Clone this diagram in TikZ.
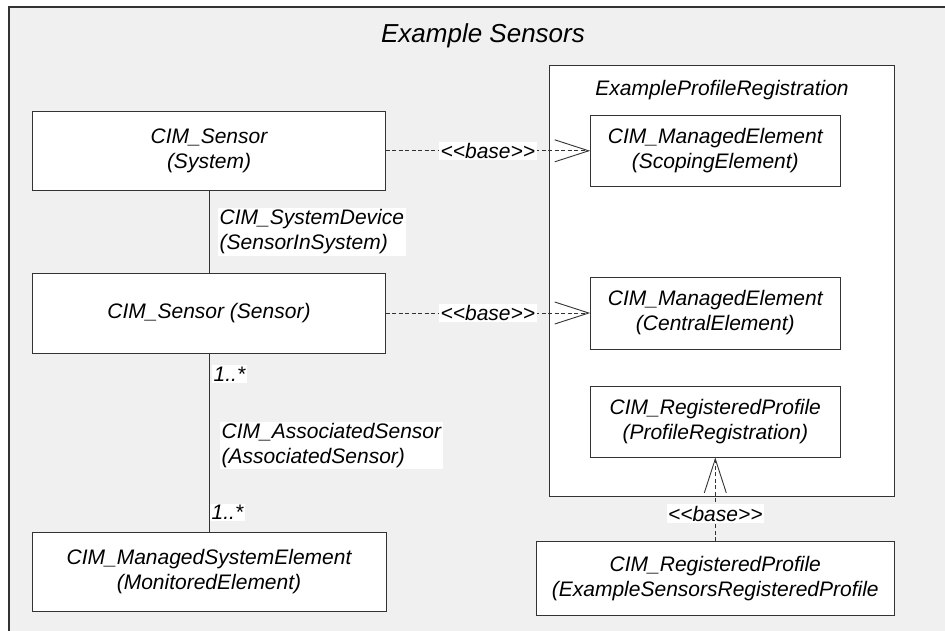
\documentclass[tikz,border=0pt]{standalone}
\usepackage{fontspec}
\newfontfamily\af{Liberation Sans}
\usetikzlibrary{arrows.meta}
\definecolor{bgc}{HTML}{F0F0F0}
\definecolor{lnc}{HTML}{333333}
\begin{document}
\begin{tikzpicture}[x=1pt,y=-1pt,
  txt/.style={font=\af\itshape\fontsize{21}{25}\selectfont, text=black},
  box/.style={txt, draw=lnc, fill=white, line width=0.9pt, inner sep=0pt, align=center},
  lbl/.style={txt, fill=white, inner sep=1.5pt, align=left},
  conn/.style={draw=lnc, line width=0.9pt},
  dep/.style={conn, dash pattern=on 4pt off 2.5pt, -{Straight Barb[length=34pt,width=22pt]}},
  stereo/.style={txt, fill=white, inner sep=1.5pt}]
\useasboundingbox (0,0) rectangle (945,630);
\clip (0,0) rectangle (945,630);
\fill[white] (0,0) rectangle (945,630);
% outer frame
\draw[fill=bgc, draw=lnc, line width=1.2pt] (9,7) rectangle (965,650);
\node[font=\af\itshape\fontsize{26}{30}\selectfont, anchor=base] (title) at (483,42) {Example Sensors};
% package
\node[draw=lnc, fill=white, line width=0.9pt, minimum width=344.7pt, minimum height=431pt, inner sep=0pt] (pkg) at (721.6,280.5) {};
\node[txt, anchor=base] (pkgtitle) at (722,95) {ExampleProfileRegistration};
% left boxes
\node[box, minimum width=352.3pt, minimum height=79pt] (sys) at (209,151.2) {CIM\_Sensor\\(System)};
\node[box, minimum width=352.3pt, minimum height=80pt] (sen) at (209,313) {CIM\_Sensor (Sensor)};
\node[box, minimum width=354pt, minimum height=79pt] (mse) at (209,571.5) {CIM\_ManagedSystemElement\\(MonitoredElement)};
% right boxes
\node[box, minimum width=249.3pt, minimum height=71.7pt] (me1) at (715.3,150.8) {CIM\_ManagedElement\\(ScopingElement)};
\node[box, minimum width=249.3pt, minimum height=72pt] (me2) at (715.3,313) {CIM\_ManagedElement\\(CentralElement)};
\node[box, minimum width=250pt, minimum height=71pt] (rp1) at (715.3,421.5) {CIM\_RegisteredProfile\\(ProfileRegistration)};
\node[box, minimum width=357.3pt, minimum height=73.3pt] (rp2) at (715.3,578.3) {CIM\_RegisteredProfile\\(ExampleSensorsRegisteredProfile};
% associations
\draw[conn] (sys.south) -- (sen.north);
\draw[conn] (sen.south) -- (mse.north);
% dependencies
\draw[dep] (sys.east |- me1.west) -- (me1.west) node[stereo, pos=0.5] (b1) {<\kern0pt<base>\kern0pt>};
\draw[dep] (sen.east |- me2.west) -- (me2.west) node[stereo, pos=0.5] (b2) {<\kern0pt<base>\kern0pt>};
\draw[dep] (rp2.north) -- (rp1.south) node[stereo, pos=0.33] (b3) {<\kern0pt<base>\kern0pt>};
% association labels
\node[lbl, anchor=west] (l1) at (218,232) {CIM\_SystemDevice\\(SensorInSystem)};
\node[lbl, anchor=west] (m1) at (212,374) {1..*};
\node[lbl, anchor=west] (l2) at (220,445.5) {CIM\_AssociatedSensor\\(AssociatedSensor)};
\node[lbl, anchor=west] (m2) at (210,512.5) {1..*};
\end{tikzpicture}
\end{document}
